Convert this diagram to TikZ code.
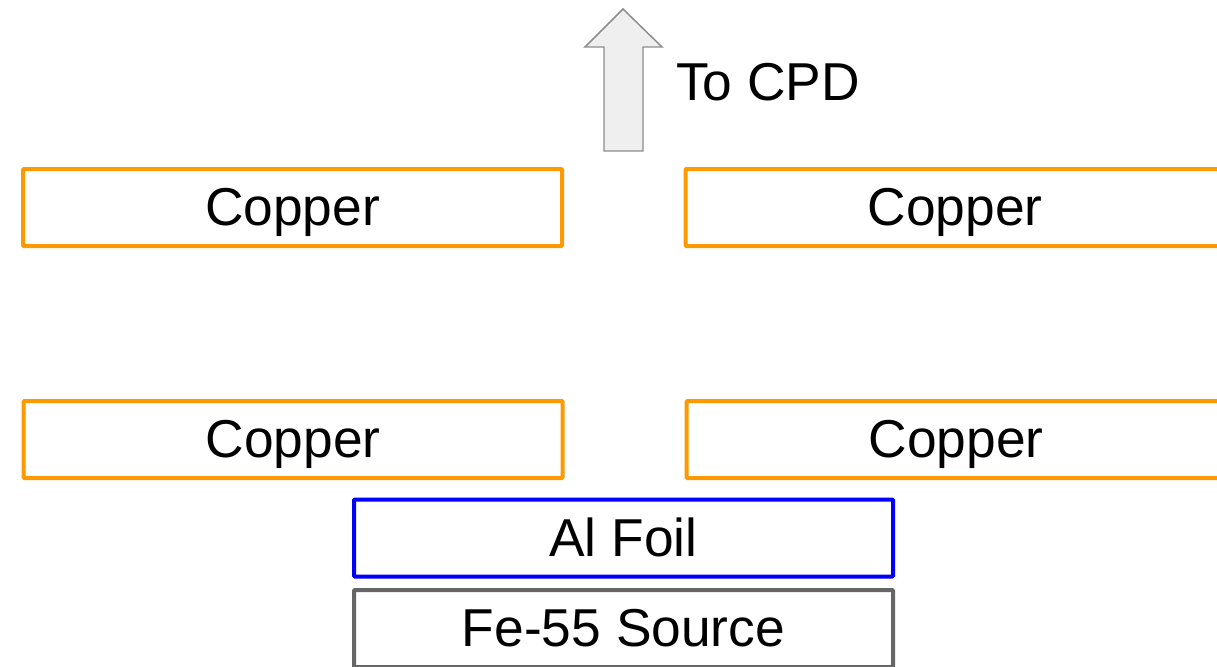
\documentclass[tikz,border=0pt]{standalone}
\usepackage{fontspec}
\setmainfont{Liberation Sans}
\begin{document}
\begin{tikzpicture}[x=0.75pt,y=-0.75pt,
  lbl/.style={font=\fontsize{40}{48}\selectfont, text height=36.2pt, text depth=8.5pt, inner sep=0pt},
  slab/.style={lbl, draw, line width=3pt, rounded corners=0.75pt, minimum width=404.25pt, minimum height=57.75pt},
  copper/.style={slab, draw={rgb,255:red,255;green,153;blue,0}},
  foil/.style={slab, draw={rgb,255:red,0;green,0;blue,255}},
  source/.style={slab, draw={rgb,255:red,102;green,102;blue,102}},
  uparrow/.style={fill={rgb,255:red,239;green,239;blue,239}, draw={rgb,255:red,140;green,140;blue,140}, line width=1.1pt, line join=miter}
]
\useasboundingbox (0,0) rectangle (1217,667);
\clip (0,0) rectangle (1217,667);
\node[copper] (cu1) at (292.5,207.5) {Copper};
\node[copper] (cu2) at (955,207.5) {Copper};
\node[copper] (cu3) at (293,439.5) {Copper};
\node[copper] (cu4) at (956,439.5) {Copper};
\node[foil] (al) at (623.5,538) {Al Foil};
\node[source] (fe) at (623.5,628.5) {Fe-55 Source};
\draw[uparrow] (604,151) -- (604,47) -- (585,47) -- (623,9) -- (662,47) -- (643,47) -- (643,151) -- cycle;
\node[lbl, anchor=west] (cpd) at (676,82) {To CPD};
\end{tikzpicture}
\end{document}
